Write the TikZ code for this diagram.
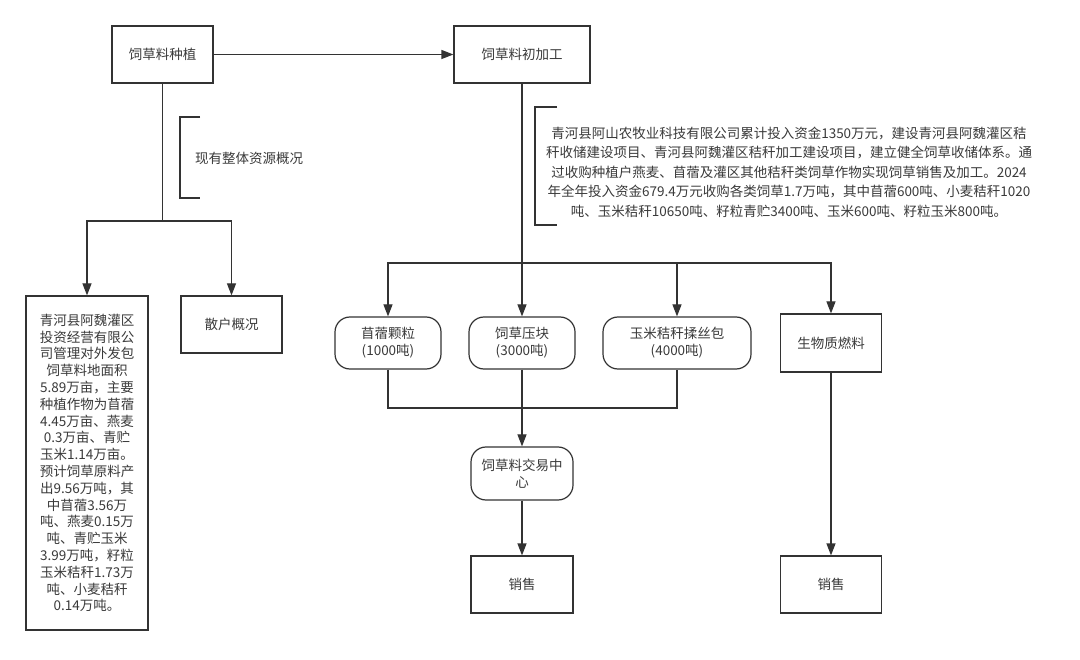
\documentclass[tikz,border=0pt]{standalone}
\usepackage{fontspec}
\setmainfont{Noto Sans CJK SC}
\usetikzlibrary{arrows.meta}
\definecolor{linec}{HTML}{333333}
\definecolor{txtc}{HTML}{3A3A3A}
\begin{document}
\begin{tikzpicture}[x=1pt,y=-1pt,
 every node/.style={font=\fontsize{13.5}{17}\selectfont, text=txtc},
 ln/.style={draw=linec, line width=1.2pt},
 arr/.style={ln, -{Triangle[length=12pt,width=9pt]}},
 box/.style={draw=linec, line width=1.2pt, rectangle, inner sep=2pt, align=center},
 rbox/.style={box, rounded corners=15pt}
]
\useasboundingbox (0,0) rectangle (1080,660);
\fill[white] (0,0) rectangle (1080,660);

% top row
\node[box, minimum width=101pt, minimum height=57pt] (b1) at (162.5,54.5) {饲草料种植};
\node[box, minimum width=136pt, minimum height=57pt] (b2) at (522,54.5) {饲草料初加工};
\draw[arr] (b1) -- (b2);

% left branch
\draw[ln] (200,117) -- (180,117) -- (180,198) -- (200,198);
\node[anchor=west, inner sep=0pt] (lab1) at (195,158) {现有整体资源概况};

\node[box, minimum width=122pt, minimum height=334pt, font=\fontsize{13.5}{16.8}\selectfont] (lb) at (87,463) {青河县阿魏灌区\\投资经营有限公\\司管理对外发包\\饲草料地面积\\5.89万亩，主要\\种植作物为苜蓿\\4.45万亩、燕麦\\0.3万亩、青贮\\玉米1.14万亩。\\预计饲草原料产\\出9.56万吨，其\\中苜蓿3.56万\\吨、燕麦0.15万\\吨、青贮玉米\\3.99万吨，籽粒\\玉米秸秆1.73万\\吨、小麦秸秆\\0.14万吨。};
\node[box, minimum width=101pt, minimum height=57pt] (sh) at (231.5,324.5) {散户概况};

\coordinate (s1) at (162.5,221);
\draw[ln] (b1.south) -- (s1);
\draw[arr] (s1) -| (lb.north);
\draw[arr] (s1) -| (sh.north);

% right branch
\draw[ln] (557,107) -- (535,107) -- (535,225) -- (557,225);
\node[inner sep=0pt, align=center, font=\fontsize{13.5}{19.5}\selectfont] (info) at (789,172) {青河县阿山农牧业科技有限公司累计投入资金1350万元，建设青河县阿魏灌区秸\\秆收储建设项目、青河县阿魏灌区秸秆加工建设项目，建立健全饲草收储体系。通\\过收购种植户燕麦、苜蓿及灌区其他秸秆类饲草作物实现饲草销售及加工。2024\\年全年投入资金679.4万元收购各类饲草1.7万吨，其中苜蓿600吨、小麦秸秆1020\\吨、玉米秸秆10650吨、籽粒青贮3400吨、玉米600吨、籽粒玉米800吨。};

\node[rbox, minimum width=106pt, minimum height=52pt] (mx) at (388,343) {苜蓿颗粒\\(1000吨)};
\node[rbox, minimum width=106pt, minimum height=52pt] (yk) at (522,343) {饲草压块\\(3000吨)};
\node[rbox, minimum width=148pt, minimum height=52pt] (ym) at (677,343) {玉米秸秆揉丝包\\(4000吨)};
\node[box, minimum width=101pt, minimum height=58pt] (sw) at (831,343) {生物质燃料};

\coordinate (s2) at (522,263);
\draw[arr] (b2.south) -- (yk.north);
\draw[arr] (s2) -| (mx.north);
\draw[arr] (s2) -| (ym.north);
\draw[arr] (s2) -| (sw.north);

\node[rbox, minimum width=102pt, minimum height=53pt] (jy) at (522,473.5) {饲草料交易中\\心};
\coordinate (m) at (522,408);
\draw[ln] (mx.south) |- (m) -| (ym.south);
\draw[arr] (yk.south) -- (jy.north);

\node[box, minimum width=102pt, minimum height=57pt] (xs1) at (522,584.5) {销售};
\node[box, minimum width=101pt, minimum height=57pt] (xs2) at (831,584.5) {销售};
\draw[arr] (jy.south) -- (xs1.north);
\draw[arr] (sw.south) -- (xs2.north);
\end{tikzpicture}
\end{document}
